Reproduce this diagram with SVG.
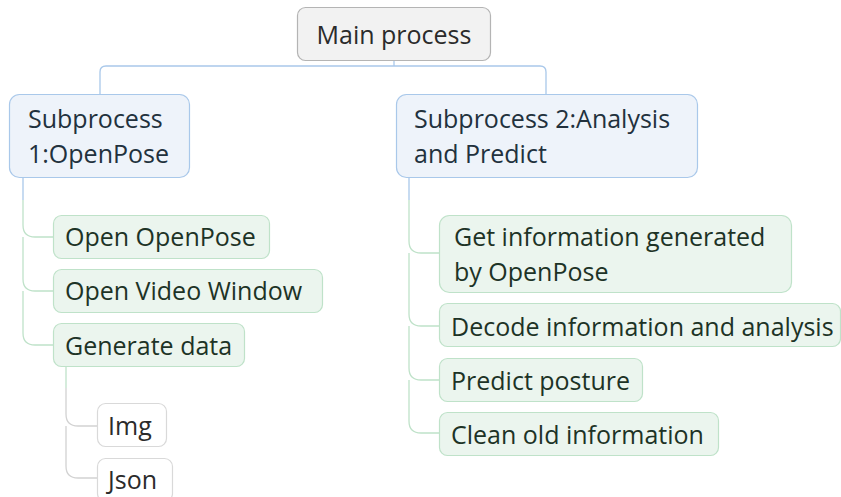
<svg xmlns="http://www.w3.org/2000/svg" width="841" height="497" viewBox="0 0 841 497">
<style>
text{font-family:"Open Sans","Noto Sans","DejaVu Sans",sans-serif;font-size:25px}
.main rect{fill:#f2f2f2;stroke:#b4b4b4;stroke-width:1.2}
.main text{fill:#2b2b2b}
.sub rect{fill:#eef3fa;stroke:#a9c8ea;stroke-width:1.2}
.sub text{fill:#22313d}
.leaf rect{fill:#ebf5ee;stroke:#bfe2c9;stroke-width:1.2}
.leaf text{fill:#1d3326}
.gray rect{fill:#ffffff;stroke:#d9d9d9;stroke-width:1.2}
.gray text{fill:#2b2b2b}
.cb{fill:none;stroke:#a9c8ea;stroke-width:1.3}
.cg{fill:none;stroke:#bfe2c9;stroke-width:1.3}
.cy{fill:none;stroke:#d2d2d2;stroke-width:1.3}
</style>
<g id="connectors">
<path class="cb" d="M394 61V66"/>
<path class="cb" d="M100 94V72Q100 66 106 66H540Q546 66 546 72V94"/>
<path class="cb" d="M23 178V200"/>
<path class="cg" d="M23 200V225Q23 237 35 237H53M23 237V279Q23 291 35 291H53M23 291V333Q23 345 35 345H53"/>
<path class="cb" d="M409 178V200"/>
<path class="cg" d="M409 200V241Q409 253 421 253H439M409 253V314Q409 326 421 326H439M409 326V368Q409 380 421 380H439M409 380V421Q409 433 421 433H439"/>
<path class="cg" d="M66 367V388"/>
<path class="cy" d="M66 388V414Q66 426 78 426H97M66 426V466Q66 478 78 478H97"/>
</g>
<g id="main" class="main"><rect x="297.5" y="7.5" width="193" height="53" rx="8"/><text x="394" y="44" text-anchor="middle">Main process</text></g>
<g id="sub1" class="sub"><rect x="9.5" y="94.5" width="180" height="83" rx="10"/><text x="28" y="128">Subprocess</text><text x="28" y="163">1:OpenPose</text></g>
<g id="sub2" class="sub"><rect x="396.5" y="94.5" width="301" height="83" rx="10"/><text x="414" y="128">Subprocess 2:Analysis</text><text x="414" y="163">and Predict</text></g>
<g id="open-openpose" class="leaf"><rect x="53.5" y="215.5" width="216" height="43" rx="8"/><text x="65" y="246">Open OpenPose</text></g>
<g id="open-video" class="leaf"><rect x="53.5" y="269.5" width="269" height="43" rx="8"/><text x="65" y="300">Open Video Window</text></g>
<g id="generate" class="leaf"><rect x="53.5" y="323.5" width="191" height="43" rx="8"/><text x="65" y="355">Generate data</text></g>
<g id="img" class="gray"><rect x="97.5" y="403.5" width="69" height="43" rx="8"/><text x="108" y="435">Img</text></g>
<g id="json" class="gray"><rect x="97.5" y="458.5" width="75" height="43" rx="8"/><text x="108" y="489">Json</text></g>
<g id="get-info" class="leaf"><rect x="439.5" y="215.5" width="352" height="77" rx="10"/><text x="454" y="246">Get information generated</text><text x="454" y="281">by OpenPose</text></g>
<g id="decode" class="leaf"><rect x="439.5" y="303.5" width="401" height="43" rx="8"/><text x="451" y="336">Decode information and analysis</text></g>
<g id="predict" class="leaf"><rect x="439.5" y="358.5" width="203" height="43" rx="8"/><text x="451" y="390">Predict posture</text></g>
<g id="clean" class="leaf"><rect x="439.5" y="412.5" width="279" height="43" rx="8"/><text x="451" y="444">Clean old information</text></g>
</svg>
